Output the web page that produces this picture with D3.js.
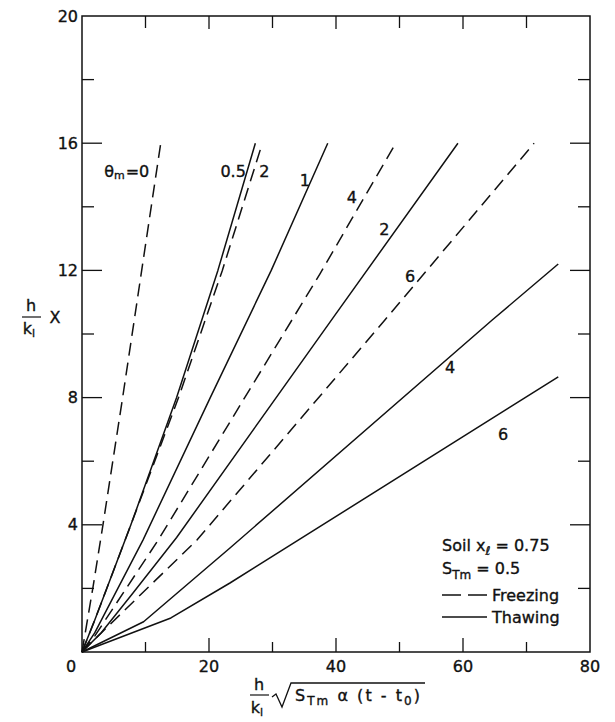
<!DOCTYPE html>
<html><head><meta charset="utf-8">
<script src="https://cdn.jsdelivr.net/npm/d3@7"></script>
<style>body{margin:0;background:#fff}text{font-family:"DejaVu Sans",sans-serif;fill:#111;stroke:#111;stroke-width:0.35px}</style>
</head><body><svg id="c" width="615" height="722"></svg>
<script>
// ---- data ----
const xTicks = [0,10,20,30,40,50,60,70,80];
const xTickLabels = [0,20,40,60,80];
const yTicks = [0,2,4,6,8,10,12,14,16,18,20];
const yTickLabels = [4,8,12,16,20];

const freeze0  = [[0,0],[1.7,2],[3.3,4],[6.4,8],[9.4,12],[12.4,16]];
const thaw05   = [[0,0],[2.0,1],[3.9,2],[7.7,4],[14.9,8],[21.4,12],[27.3,16]];
const freeze2  = [[0,0],[2.0,1],[3.9,2],[7.7,4],[15.2,8],[22.1,12],[28.4,16]];
const thaw1    = [[0,0],[2,0.6],[9.6,3.52],[20.2,8],[29.8,12],[38.7,16]];
const freeze4  = [[0,0],[2,0.5],[12,3.52],[37.5,11.9],[49.4,16]];
const thaw2    = [[0,0],[3,0.6],[8,1.85],[14.9,3.6],[39.5,10.5],[59.2,16]];
const freeze6  = [[0,0],[2,0.4],[18.1,3.52],[47.7,10.44],[71.2,16]];
const thaw4    = [[0,0],[9.7,0.95],[23.3,3.27],[64.6,10.44],[75,12.2]];
const thaw6    = [[0,0],[14,1.07],[23.3,2.17],[75,8.65]];

const seriesNames = ["freeze0","thaw05","freeze2","thaw1","freeze4","thaw2","freeze6","thaw4","thaw6"];
const seriesKinds = ["F","T","F","T","F","T","F","T","T"];
const seriesData  = [freeze0,thaw05,freeze2,thaw1,freeze4,thaw2,freeze6,thaw4,thaw6];
const curveLabels = ["0","0.5","2","1","4","2","6","4","6"];

// ---- layout ----
const svg = d3.select("#c");
const x = d3.scaleLinear([0,80],[82,590]);
const y = d3.scaleLinear([0,20],[652,16]);
const ink = "#111";

// frame
svg.append("rect").attr("x",x(0)).attr("y",y(20)).attr("width",x(80)-x(0)).attr("height",y(0)-y(20))
  .attr("fill","none").attr("stroke",ink).attr("stroke-width",1.5);

// x ticks (bottom & top, inward)
xTicks.forEach(v=>{
  if (v===0||v===80) return;
  const L = v%20===0 ? 14 : 10;
  svg.append("line").attr("x1",x(v)).attr("x2",x(v)).attr("y1",y(0)).attr("y2",y(0)-L).attr("stroke",ink).attr("stroke-width",1.3);
  svg.append("line").attr("x1",x(v)).attr("x2",x(v)).attr("y1",y(20)).attr("y2",y(20)+(v%20===0?13:12)).attr("stroke",ink).attr("stroke-width",1.3);
});
// y ticks (left & right, inward)
yTicks.forEach(v=>{
  if (v===0||v===20) return;
  const L = v%4===0 ? 20 : 12;
  svg.append("line").attr("x1",x(0)).attr("x2",x(0)+L).attr("y1",y(v)).attr("y2",y(v)).attr("stroke",ink).attr("stroke-width",1.3);
  svg.append("line").attr("x1",x(80)).attr("x2",x(80)-L).attr("y1",y(v)).attr("y2",y(v)).attr("stroke",ink).attr("stroke-width",1.3);
});
// tick labels
xTickLabels.forEach(v=>{
  svg.append("text").attr("x",x(v)+(v===0?-11:0)).attr("y",y(0)+15).attr("text-anchor","middle")
    .attr("dominant-baseline","middle").attr("font-size",16).text(v);
});
yTickLabels.forEach(v=>{
  svg.append("text").attr("x",x(0)-4).attr("y",y(v)+1).attr("text-anchor","end")
    .attr("dominant-baseline","middle").attr("font-size",16).text(v);
});

// curves
const line = d3.line().x(d=>x(d[0])).y(d=>y(d[1]));
seriesData.forEach((d,i)=>{
  svg.append("path").attr("d",line(d)).attr("fill","none").attr("stroke",ink)
    .attr("stroke-width",1.5).attr("stroke-linejoin","round")
    .attr("stroke-dasharray",seriesKinds[i]==="F"?"13,7":null);
});

// curve labels (positions in data units)
const labelAt = [[10.6,15.09],[23.8,15.09],[28.7,15.09],[35.1,14.78],[42.5,14.25],[47.6,13.27],[51.65,11.79],[57.95,8.93],[66.3,6.82]];
labelAt.forEach((p,i)=>{
  const t = svg.append("text").attr("x",x(p[0])).attr("y",y(p[1]))
    .attr("text-anchor",i===0?"end":"middle")
    .attr("dominant-baseline","middle").attr("font-size",16);
  if (i===0){
    t.append("tspan").text("θ");
    t.append("tspan").attr("font-size",11).attr("dy",4).text("m");
    t.append("tspan").attr("dy",-4).attr("dx",1).text("=" + curveLabels[i]);
  } else t.text(curveLabels[i]);
});

// legend
const lg = svg.append("g").attr("font-size",16);
let t1 = lg.append("text").attr("x",442).attr("y",551);
t1.append("tspan").text("Soil x");
t1.append("tspan").attr("font-size",12).attr("font-style","italic").attr("dy",4).text("ℓ");
t1.append("tspan").attr("dy",-4).text(" = 0.75");
let t2 = lg.append("text").attr("x",442).attr("y",574);
t2.append("tspan").text("S");
t2.append("tspan").attr("font-size",12).attr("dy",5).text("Tm");
t2.append("tspan").attr("dy",-5).text(" = 0.5");
lg.append("line").attr("x1",442).attr("x2",487).attr("y1",595).attr("y2",595).attr("stroke",ink).attr("stroke-width",1.5).attr("stroke-dasharray","19,7");
lg.append("text").attr("x",492).attr("y",601).text("Freezing");
lg.append("line").attr("x1",442).attr("x2",487).attr("y1",617).attr("y2",617).attr("stroke",ink).attr("stroke-width",1.5);
lg.append("text").attr("x",492).attr("y",623).text("Thawing");

// y axis title
const yt = svg.append("g").attr("font-size",16);
yt.append("text").attr("x",31).attr("y",311).attr("text-anchor","middle").text("h");
yt.append("line").attr("x1",22).attr("x2",41).attr("y1",317).attr("y2",317).attr("stroke",ink).attr("stroke-width",1.2);
let yk = yt.append("text").attr("x",29).attr("y",334).attr("text-anchor","middle");
yk.append("tspan").text("k");
yk.append("tspan").attr("font-size",11).attr("dy",3).text("l");
yt.append("text").attr("x",55).attr("y",323).attr("text-anchor","middle").text("X");

// x axis title
const xt = svg.append("g").attr("font-size",16);
xt.append("text").attr("x",259).attr("y",690).attr("text-anchor","middle").text("h");
xt.append("line").attr("x1",250).attr("x2",269).attr("y1",695).attr("y2",695).attr("stroke",ink).attr("stroke-width",1.2);
let xk = xt.append("text").attr("x",257).attr("y",713).attr("text-anchor","middle");
xk.append("tspan").text("k");
xk.append("tspan").attr("font-size",11).attr("dy",3).text("l");
xt.append("path").attr("d","M272,697 L276,694 L282,707 L291,683 L425,683").attr("fill","none").attr("stroke",ink).attr("stroke-width",1.3);
let xs = xt.append("text").attr("x",295).attr("y",701).attr("textLength",125).attr("lengthAdjust","spacing");
xs.append("tspan").text("S");
xs.append("tspan").attr("font-size",12).attr("dy",4).text("Tm");
xs.append("tspan").attr("dy",-4).text(" α (t - t");
xs.append("tspan").attr("font-size",12).attr("dy",4).text("0");
xs.append("tspan").attr("dy",-4).text(")");
</script></body></html>
